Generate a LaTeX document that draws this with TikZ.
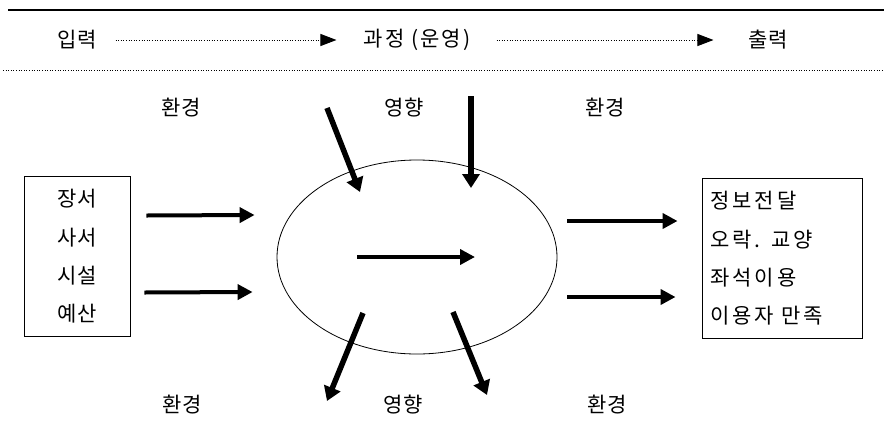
\documentclass[tikz,border=0pt]{standalone}
\usepackage{fontspec}
\setmainfont{Noto Sans CJK KR}
\usetikzlibrary{arrows.meta,shapes.geometric}

\begin{document}
\begin{tikzpicture}[x=1pt, y=-1pt, every node/.style={font=\fontsize{21}{38.3}\selectfont, inner sep=0pt}, box/.style={draw, line width=0.9pt, minimum height=160pt}, arr/.style={-{Triangle[length=15pt, width=15pt]}, line width=4pt}, infl/.style={-{Triangle[length=14pt, width=17pt]}, line width=5.5pt}, dotarr/.style={-{Triangle[length=16pt, width=12pt]}, line width=1pt, dash pattern=on 1pt off 1.6pt}]
\useasboundingbox (0,0) rectangle (884,432);
% header: input -> process -> output
\draw[line width=1.5pt] (8,10) -- (884,10);
\node (inp) at (77,40) {입력};
\node[font=\fontsize{21}{38.3}\selectfont\addfontfeature{LetterSpace=10}] (proc) at (417,40) {과정 (운영)};
\node (outp) at (768,40) {출력};
\draw[dotarr, shorten <=19pt, shorten >=27pt] (inp.east) -- (proc.west);
\draw[dotarr, shorten <=26pt, shorten >=35pt] (proc.east) -- (outp.west);
\draw[line width=1pt, dash pattern=on 1pt off 1.6pt] (3,70) -- (884,70);
% environment / influence labels
\node (envA) at (181,108) {환경};
\node (effA) at (404,108) {영향};
\node (envB) at (605,108) {환경};
\node (envC) at (182,405) {환경};
\node (effB) at (403,405) {영향};
\node (envD) at (607,405) {환경};
% resources, operation, services
\node[box, align=center, minimum width=106pt] (res) at (77,256.5) {장서\\사서\\시설\\예산};
\node[draw, line width=0.8pt, ellipse, minimum width=280pt, minimum height=194pt] (oper) at (417,257) {};
\node[box, align=left, text width=144pt, inner xsep=8pt, font=\fontsize{21}{38.3}\selectfont\addfontfeature{LetterSpace=15}] (svc) at (782,258.5) {정보전달\\오락. 교양\\좌석이용\\이용자 만족};
\draw[arr] ([xshift=16pt, yshift=41pt]res.east) -- ([xshift=-22pt, yshift=42pt]oper.west);
\draw[arr] ([xshift=14pt, yshift=-36pt]res.east) -- ([xshift=-24pt, yshift=-35pt]oper.west);
\draw[arr] ([xshift=-60pt]oper.center) -- ([xshift=58pt]oper.center);
\draw[arr] ([xshift=10pt, yshift=36pt]oper.east) -- ([xshift=-24pt, yshift=37.5pt]svc.west);
\draw[arr] ([xshift=10pt, yshift=-40pt]oper.east) -- ([xshift=-26pt, yshift=-38.5pt]svc.west);
% outside influence in, effect out
\coordinate (inA) at (327,108);
\coordinate (inB) at (471,96);
\coordinate (outA) at (327,401);
\coordinate (outB) at (487,395);
\draw[infl] (inA) -- (360,192);
\draw[infl] (inB) -- (471,188);
\draw[infl] (363,313) -- (outA);
\draw[infl] (453,312) -- (outB);
\end{tikzpicture}
\end{document}
